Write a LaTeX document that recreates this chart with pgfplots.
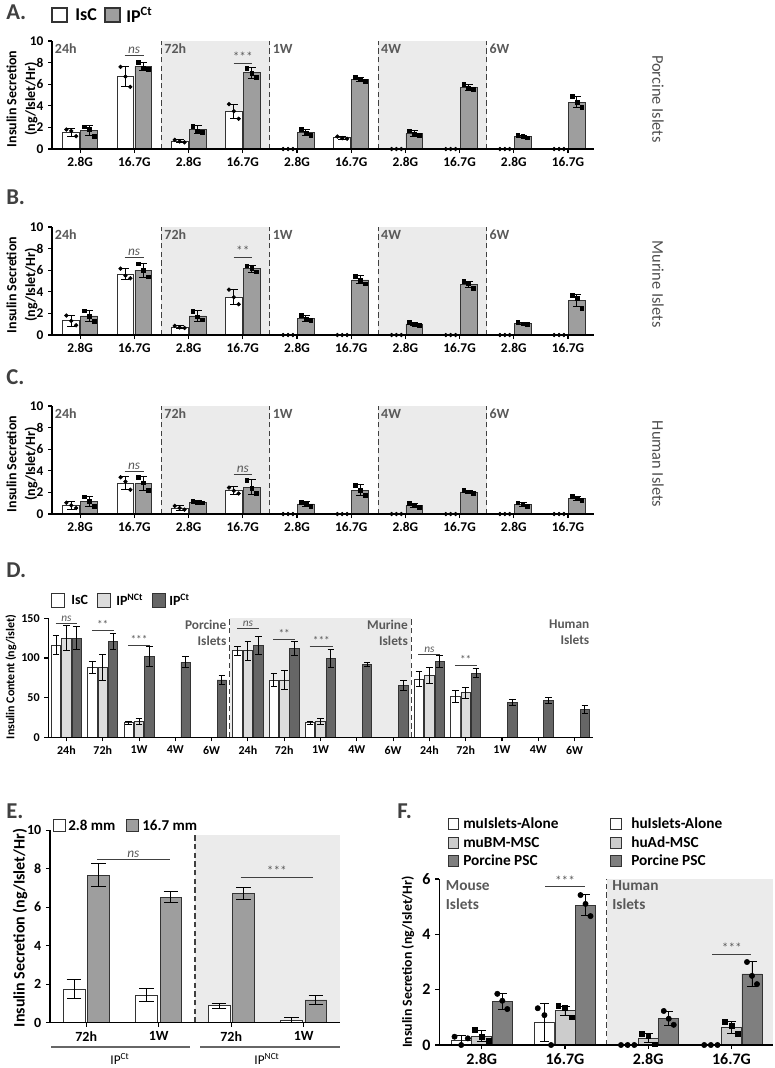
\documentclass[border=0pt]{standalone}
\usepackage{fontspec}
\setmainfont{Carlito}
\usepackage{pgfplots}
\usepackage{pgfplotstable}
\pgfplotsset{compat=1.18}

\definecolor{shadebg}{HTML}{EBEBEB}
\definecolor{ipgray}{HTML}{9E9E9E}
\definecolor{lightbar}{HTML}{DCDCDC}
\definecolor{darkbar}{HTML}{666666}
\definecolor{mscbar}{HTML}{CCCCCC}
\definecolor{pscbar}{HTML}{7F7F7F}
\definecolor{edge}{HTML}{333333}
\definecolor{txtgray}{HTML}{595959}
\definecolor{sidegray}{HTML}{4F4F4F}
\definecolor{lettergray}{HTML}{404040}

\newcommand\fs[1]{\fontsize{#1}{#1}\selectfont}

% ---------- data: panels A-C (g = group, m = mean, e = SD, d1-d3 = replicates)
\pgfplotstableread{
g m e d1 d2 d3
0 1.55 0.38 1.80 1.67 1.19
1 6.70 0.90 7.60 6.70 5.75
2 0.72 0.12 0.85 0.70 0.62
3 3.47 0.68 4.15 3.50 2.80
4 nan nan 0 0 0
5 1.03 0.15 1.15 1.00 0.95
6 nan nan 0 0 0
7 nan nan 0 0 0
8 nan nan 0 0 0
9 nan nan 0 0 0
}\AIsC
\pgfplotstableread{
g m e d1 d2 d3
0 1.70 0.45 2.05 1.85 1.20
1 7.62 0.35 8.00 7.50 7.40
2 1.78 0.38 2.10 1.70 1.55
3 7.05 0.50 7.50 7.00 6.65
4 1.55 0.30 1.85 1.50 1.30
5 6.45 0.17 6.65 6.40 6.30
6 1.43 0.30 1.70 1.35 1.25
7 5.70 0.30 6.00 5.60 5.50
8 1.15 0.10 1.25 1.15 1.05
9 4.35 0.52 4.85 4.35 3.85
}\AIP
\pgfplotstableread{
g m e d1 d2 d3
0 1.33 0.50 1.80 1.30 0.90
1 5.63 0.50 6.15 5.50 5.25
2 0.74 0.10 0.85 0.70 0.65
3 3.50 0.70 4.20 3.50 2.85
4 nan nan 0 0 0
5 nan nan 0 0 0
6 nan nan 0 0 0
7 nan nan 0 0 0
8 nan nan 0 0 0
9 nan nan 0 0 0
}\BIsC
\pgfplotstableread{
g m e d1 d2 d3
0 1.76 0.55 2.25 1.75 1.30
1 6.00 0.65 6.60 6.00 5.40
2 1.76 0.50 2.20 1.70 1.40
3 6.13 0.35 6.40 6.15 5.85
4 1.55 0.25 1.80 1.50 1.35
5 5.10 0.37 5.45 5.10 4.75
6 1.02 0.12 1.15 1.00 0.90
7 4.70 0.30 5.00 4.80 4.30
8 1.08 0.12 1.20 1.05 1.00
9 3.19 0.55 3.70 3.40 2.50
}\BIP
\pgfplotstableread{
g m e d1 d2 d3
0 0.80 0.35 1.05 0.80 0.55
1 2.88 0.60 3.40 3.00 2.25
2 0.56 0.25 0.75 0.55 0.40
3 2.17 0.35 2.45 2.15 1.90
4 nan nan 0 0 0
5 nan nan 0 0 0
6 nan nan 0 0 0
7 nan nan 0 0 0
8 nan nan 0 0 0
9 nan nan 0 0 0
}\CIsC
\pgfplotstableread{
g m e d1 d2 d3
0 1.18 0.45 1.60 1.20 0.75
1 2.82 0.65 3.40 2.90 2.20
2 1.11 0.10 1.20 1.10 1.05
3 2.48 0.70 3.15 2.40 1.90
4 0.93 0.20 1.10 0.95 0.75
5 2.20 0.50 2.65 2.20 1.75
6 0.80 0.20 1.00 0.80 0.60
7 2.04 0.18 2.20 2.05 1.90
8 0.90 0.20 1.05 0.90 0.75
9 1.42 0.20 1.65 1.40 1.25
}\CIP

% ---------- panel D: a = IsC, b = IP^NCt, c = IP^Ct
\pgfplotstableread{
g a ae b be c ce
0 116 12 125 16 125 14.8
1 88 7 88 16 120.6 10
2 18.5 2.1 19.7 4 101.7 13
3 nan nan nan nan 94.5 7
4 nan nan nan nan 72.3 5.8
5 109 6 109 12 116 11.5
6 72.3 8.4 72.3 12.2 112 8.3
7 18.5 2 19.7 3.5 99.6 11
8 nan nan nan nan 92 2.3
9 nan nan nan nan 65 6.3
10 73 9.5 78 10 95.4 7.2
11 51 7.5 56 7 80.7 5.7
12 nan nan nan nan 44 4.3
13 nan nan nan nan 47 3.8
14 nan nan nan nan 35.3 4.9
}\Dtab

% ---------- panel E
\pgfplotstableread{
g lo loe hi hie
0 1.73 0.49 7.66 0.61
1 1.44 0.32 6.52 0.28
2 0.88 0.12 6.71 0.32
3 0.14 0.15 1.18 0.22
}\Etab

% ---------- panel F: a = islets alone, b = MSC, c = porcine PSC
\pgfplotstableread{
g a ae b be c ce a1 a2 a3 b1 b2 b3 c1 c2 c3
0 0.18 0.15 0.32 0.20 1.57 0.30 0.30 0.00 0.24 0.54 0.30 0.15 1.85 1.60 1.30
1 0.81 0.69 1.24 0.17 5.06 0.38 1.33 1.08 0.00 1.42 1.35 1.00 5.42 5.10 4.66
2 nan nan 0.25 0.15 0.96 0.24 0 0 0 0.40 0.33 0.03 1.23 0.95 0.73
3 nan nan 0.64 0.22 2.57 0.44 0 0 0 0.84 0.70 0.40 3.00 2.50 2.20
}\Ftab

\tikzset{
  dashlin/.style={line width=0.8pt, black!75, dash pattern=on 4pt off 2.5pt},
  tlab/.style={anchor=north west, font=\fs{10.5}\bfseries, text=txtgray, inner sep=2pt},
}
\pgfplotsset{
  base/.style={
    scale only axis, clip=false, axis on top,
    axis x line*=bottom, axis y line*=left,
    axis line style={line width=0.9pt, black},
    tick align=outside,
    major tick length=3pt,
    tick style={line width=0.8pt, black},
    /pgf/number format/assume math mode=true,
    unbounded coords=discard,
  },
  barp/.style={ybar, bar shift=0pt, draw=edge, line width=0.6pt,
    error bars/y dir=both, error bars/y explicit,
    error bars/error bar style={line width=0.7pt, black},
    error bars/error mark options={rotate=90, line width=0.7pt, black, mark size=#1}},
  abc/.style={base, width=406.5pt, height=81pt,
    xmin=-0.52, xmax=9.48, ymin=0, ymax=10, ytick={0,2,...,10},
    xtick={0,...,9},
    xticklabels={2.8G,16.7G,2.8G,16.7G,2.8G,16.7G,2.8G,16.7G,2.8G,16.7G},
    ticklabel style={font=\fs{10}\bfseries}},
}

\newcommand\pairs[4]{%
  \addplot[barp=3pt, bar width=0.31, fill=#3] table[x expr=\thisrow{g}+(#2), y=m, y error=e] {#1};
  \addplot[only marks, mark=#4, mark size=1.4pt, black] table[x expr=\thisrow{g}+(#2)-0.09, y=d1] {#1};
  \addplot[only marks, mark=#4, mark size=1.4pt, black] table[x expr=\thisrow{g}+(#2), y=d2] {#1};
  \addplot[only marks, mark=#4, mark size=1.4pt, black] table[x expr=\thisrow{g}+(#2)+0.09, y=d3] {#1};
}
\newcommand\abcbg{%
  \fill[shadebg] (1.5,0) rectangle (3.5,10);
  \fill[shadebg] (5.5,0) rectangle (7.5,10);
  \draw[dashlin] (1.5,0) -- (1.5,10);
  \draw[dashlin] (3.5,0) -- (3.5,10);
  \draw[dashlin] (5.5,0) -- (5.5,10);
  \draw[dashlin] (7.5,0) -- (7.5,10);
  \node[tlab] at (-0.52,10) {24h};
  \node[tlab] at (1.5,10) {72h};
  \node[tlab] at (3.5,10) {1W};
  \node[tlab] at (5.5,10) {4W};
  \node[tlab] at (7.5,10) {6W};
}
\newcommand\sig[5][10]{%
  \draw[line width=0.6pt, black!75] (#2,#4) -- (#3,#4)
    node[midway, above, inner sep=1pt, font=\fs{#1}, text=txtgray] {#5};
}

\begin{document}
\begin{tikzpicture}[x=0.75pt, y=-0.75pt]
\useasboundingbox (0,0) rectangle (775,1068);

% ================= A  (positions in pt: px * 0.75, y downward)
\begin{axis}[abc, at={(39pt,-111.75pt)}, anchor=south west]
  \abcbg
  \pairs{\AIsC}{-0.165}{white}{*}
  \pairs{\AIP}{0.165}{ipgray}{square*}
  \sig{0.82}{1.17}{8.7}{\textit{ns}}
  \sig{2.83}{3.17}{7.9}{***}
\end{axis}
% ================= B
\begin{axis}[abc, at={(39pt,-251.25pt)}, anchor=south west]
  \abcbg
  \pairs{\BIsC}{-0.165}{white}{*}
  \pairs{\BIP}{0.165}{ipgray}{square*}
  \sig{0.82}{1.17}{7.2}{\textit{ns}}
  \sig{2.83}{3.17}{7.2}{**}
\end{axis}
% ================= C
\begin{axis}[abc, at={(39pt,-385.5pt)}, anchor=south west]
  \abcbg
  \pairs{\CIsC}{-0.165}{white}{*}
  \pairs{\CIP}{0.165}{ipgray}{square*}
  \sig{0.82}{1.17}{3.96}{\textit{ns}}
  \sig{2.83}{3.17}{3.65}{\textit{ns}}
\end{axis}

% ================= D
\begin{axis}[base, at={(36.225pt,-552.975pt)}, anchor=south west, width=408.3pt, height=89.25pt,
  xmin=-0.5, xmax=14.5, ymin=0, ymax=150, ytick={0,50,100,150},
  xtick={0,...,14},
  xticklabels={24h,72h,1W,4W,6W,24h,72h,1W,4W,6W,24h,72h,1W,4W,6W},
  ticklabel style={font=\fs{9}\bfseries}]
  \fill[shadebg] (4.5,0) rectangle (9.5,150);
  \draw[dashlin] (4.5,0) -- (4.5,150);
  \draw[dashlin] (9.5,0) -- (9.5,150);
  \addplot[barp=2.5pt, bar width=0.26, fill=white] table[x expr=\thisrow{g}-0.285, y=a, y error=ae] {\Dtab};
  \addplot[barp=2.5pt, bar width=0.26, fill=lightbar] table[x expr=\thisrow{g}, y=b, y error=be] {\Dtab};
  \addplot[barp=2.5pt, bar width=0.26, fill=darkbar] table[x expr=\thisrow{g}+0.285, y=c, y error=ce] {\Dtab};
  \sig[8.5]{-0.3}{0.3}{143.7}{\textit{ns}}
  \sig[8.5]{0.7}{1.3}{134.5}{**}
  \sig[8.5]{1.7}{2.3}{116.4}{***}
  \sig[8.5]{4.7}{5.3}{137.4}{\textit{ns}}
  \sig[8.5]{5.7}{6.3}{124}{**}
  \sig[8.5]{6.7}{7.35}{115}{***}
  \sig[8.5]{9.7}{10.3}{105}{\textit{ns}}
  \sig[8.5]{10.7}{11.3}{90.3}{**}
  \node[anchor=north east, align=right, font=\fontsize{10}{12}\selectfont\bfseries, text=txtgray, inner sep=1pt] at (4.45,150) {Porcine\\Islets};
  \node[anchor=north east, align=right, font=\fontsize{10}{12}\selectfont\bfseries, text=txtgray, inner sep=1pt] at (9.45,150) {Murine\\Islets};
  \node[anchor=north east, align=right, font=\fontsize{10}{12}\selectfont\bfseries, text=txtgray, inner sep=1pt] at (14.45,150) {Human\\Islets};
\end{axis}

% ================= E
\begin{axis}[base, at={(37.5pt,-767.025pt)}, anchor=south west, width=217.5pt, height=144.5pt,
  xmin=-0.5, xmax=3.5, ymin=0, ymax=10, ytick={0,2,...,10},
  xtick={0,...,3}, xticklabels={72h,1W,72h,1W},
  ticklabel style={font=\fs{10.5}\bfseries}]
  \fill[shadebg] (1.5,0) rectangle (3.5,9.75);
  \draw[dashlin] (1.5,0) -- (1.5,9.75);
  \addplot[barp=5.5pt, bar width=0.3, fill=white] table[x expr=\thisrow{g}-0.168, y=lo, y error=loe] {\Etab};
  \addplot[barp=5.5pt, bar width=0.3, fill=ipgray] table[x expr=\thisrow{g}+0.168, y=hi, y error=hie] {\Etab};
  \sig{0.15}{1.15}{8.48}{\textit{ns}}
  \sig{2.13}{3.13}{7.54}{***}
\end{axis}

% ================= F
\begin{axis}[base, at={(329.475pt,-783.75pt)}, anchor=south west, width=250.3pt, height=124.5pt,
  xmin=-0.51, xmax=3.5, ymin=0, ymax=6, ytick={0,2,4,6},
  xtick={0,...,3}, xticklabels={2.8G,16.7G,2.8G,16.7G},
  ticklabel style={font=\fs{12}\bfseries}]
  \fill[shadebg] (1.5,0) rectangle (3.5,6);
  \draw[dashlin] (1.5,0) -- (1.5,6);
  \addplot[barp=3.5pt, bar width=0.24, fill=white] table[x expr=\thisrow{g}-0.247, y=a, y error=ae] {\Ftab};
  \addplot[barp=3.5pt, bar width=0.24, fill=mscbar] table[x expr=\thisrow{g}, y=b, y error=be] {\Ftab};
  \addplot[barp=3.5pt, bar width=0.24, fill=pscbar] table[x expr=\thisrow{g}+0.247, y=c, y error=ce] {\Ftab};
  \addplot[only marks, mark=*, mark size=2pt, black] table[x expr=\thisrow{g}-0.247-0.08, y=a1] {\Ftab};
  \addplot[only marks, mark=*, mark size=2pt, black] table[x expr=\thisrow{g}-0.247, y=a2] {\Ftab};
  \addplot[only marks, mark=*, mark size=2pt, black] table[x expr=\thisrow{g}-0.247+0.08, y=a3] {\Ftab};
  \addplot[only marks, mark=square*, mark size=1.8pt, black] table[x expr=\thisrow{g}-0.08, y=b1] {\Ftab};
  \addplot[only marks, mark=square*, mark size=1.8pt, black] table[x expr=\thisrow{g}, y=b2] {\Ftab};
  \addplot[only marks, mark=square*, mark size=1.8pt, black] table[x expr=\thisrow{g}+0.08, y=b3] {\Ftab};
  \addplot[only marks, mark=*, mark size=2pt, black] table[x expr=\thisrow{g}+0.247-0.06, y=c1] {\Ftab};
  \addplot[only marks, mark=*, mark size=2pt, black] table[x expr=\thisrow{g}+0.247, y=c2] {\Ftab};
  \addplot[only marks, mark=*, mark size=2pt, black] table[x expr=\thisrow{g}+0.247+0.06, y=c3] {\Ftab};
  \sig{0.76}{1.24}{5.72}{***}
  \sig{2.77}{3.24}{3.28}{***}
  \node[anchor=north west, align=left, font=\fontsize{11.5}{14}\selectfont\bfseries, text=txtgray, inner sep=1pt] at (-0.45,6) {Mouse\\Islets};
  \node[anchor=north west, align=left, font=\fontsize{11.5}{14}\selectfont\bfseries, text=txtgray, inner sep=1pt] at (1.55,6) {Human\\Islets};
\end{axis}

% ================= labels outside the axes
\begin{scope}[every node/.style={inner sep=0pt}]
  % panel letters
  \foreach \L/\yy/\xx in {A./12/6, B./197/6, C./377/6, D./570/6, E./811/6, F./811/397}
    \node[anchor=west, font=\fs{17}\bfseries, text=lettergray] at (\xx,\yy) {\L};
  % legend A
  \draw[edge, line width=0.8pt, fill=white] (52,8) rectangle (67,22);
  \node[anchor=west, font=\fs{13.5}\bfseries] at (75,15) {IsC};
  \draw[edge, line width=0.8pt, fill=ipgray] (105,8) rectangle (120,22);
  \node[anchor=west, font=\fs{13.5}\bfseries] at (126,15) {IP\textsuperscript{Ct}};
  % y labels A-C
  \foreach \yy in {99,285,464}
    \node[rotate=90, align=center, font=\fontsize{10.5}{14}\selectfont\bfseries] at (22,\yy) {Insulin Secretion\\(ng/Islet/Hr)};
  \node[rotate=-90, font=\fs{12.3}, text=sidegray] at (658,99) {Porcine Islets};
  \node[rotate=-90, font=\fs{12.3}, text=sidegray] at (658,284) {Murine Islets};
  \node[rotate=-90, font=\fs{12.3}, text=sidegray] at (658,464) {Human Islets};
  % legend D
  \draw[edge, line width=0.7pt, fill=white] (51,593) rectangle (64,607);
  \node[anchor=west, font=\fs{10.5}\bfseries] at (71,600) {IsC};
  \draw[edge, line width=0.7pt, fill=lightbar] (97,593) rectangle (110,607);
  \node[anchor=west, font=\fs{10.5}\bfseries] at (116,600) {IP\textsuperscript{NCt}};
  \draw[edge, line width=0.7pt, fill=darkbar] (152,593) rectangle (165,607);
  \node[anchor=west, font=\fs{10.5}\bfseries] at (169,600) {IP\textsuperscript{Ct}};
  \node[rotate=90, font=\fs{9}\bfseries] at (11,677) {Insulin Content (ng/islet)};
  % legend E
  \draw[edge, line width=0.7pt, fill=white] (53,819) rectangle (65,831);
  \node[anchor=west, font=\fs{11.3}\bfseries] at (68,825) {2.8 mm};
  \draw[edge, line width=0.7pt, fill=ipgray] (126,819) rectangle (138,831);
  \node[anchor=west, font=\fs{11.3}\bfseries] at (142,825) {16.7 mm};
  \node[rotate=90, font=\fs{12}\bfseries] at (20,928) {Insulin Secretion (ng/Islet/Hr)};
  \draw[black!60, line width=0.8pt] (51,1047) -- (190,1047);
  \draw[black!60, line width=0.8pt] (200,1047) -- (340,1047);
  \node[font=\fs{10}] at (120,1059) {IP\textsuperscript{Ct}};
  \node[font=\fs{10}] at (267,1059) {IP\textsuperscript{NCt}};
  % legend F
  \draw[edge, line width=0.7pt, fill=white] (448,818) rectangle (458,829);
  \node[anchor=west, font=\fs{11.5}\bfseries] at (463,823.5) {muIslets-Alone};
  \draw[edge, line width=0.7pt, fill=mscbar] (448,837) rectangle (458,848);
  \node[anchor=west, font=\fs{11.5}\bfseries] at (463,842.5) {muBM-MSC};
  \draw[edge, line width=0.7pt, fill=pscbar] (448,855) rectangle (458,866);
  \node[anchor=west, font=\fs{11.5}\bfseries] at (463,860.5) {Porcine PSC};
  \draw[edge, line width=0.7pt, fill=white] (610,818) rectangle (621,829);
  \node[anchor=west, font=\fs{11.5}\bfseries] at (631,823.5) {huIslets-Alone};
  \draw[edge, line width=0.7pt, fill=mscbar] (610,837) rectangle (621,848);
  \node[anchor=west, font=\fs{11.5}\bfseries] at (631,842.5) {huAd-MSC};
  \draw[edge, line width=0.7pt, fill=pscbar] (610,855) rectangle (621,866);
  \node[anchor=west, font=\fs{11.5}\bfseries] at (631,860.5) {Porcine PSC};
  \node[rotate=90, font=\fs{10.4}\bfseries] at (408,962) {Insulin Secretion (ng/Islet/Hr)};
\end{scope}
\end{tikzpicture}
\end{document}
